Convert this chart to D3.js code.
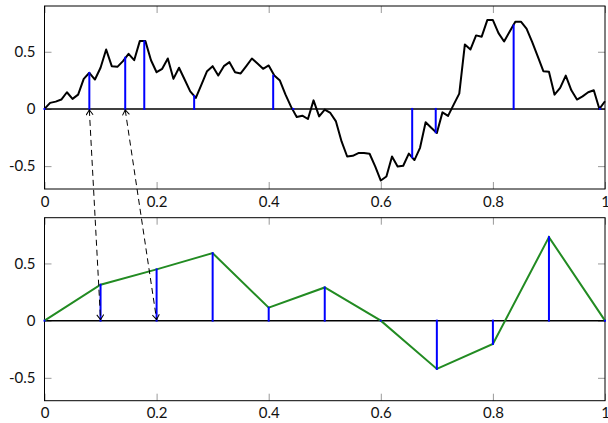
<!DOCTYPE html>
<html>
<head>
<meta charset="utf-8">
<script src="https://cdn.jsdelivr.net/npm/d3@7"></script>
<style>
  body { margin: 0; background: #fff; }
  text { font-family: Lato, "Open Sans", sans-serif; font-size: 15px; fill: #111; }
  .tick line { stroke: #999; }
</style>
</head>
<body>
<main></main>
<script>
// noisy signal, sampled every 0.01
const signal = [0, 0.053, 0.064, 0.082, 0.146, 0.088, 0.125, 0.263, 0.316, 0.257,
  0.36, 0.52, 0.374, 0.368, 0.418, 0.482, 0.426, 0.593, 0.593, 0.426,
  0.321, 0.351, 0.441, 0.263, 0.36, 0.257, 0.154, 0.096, 0.213, 0.33,
  0.374, 0.292, 0.374, 0.409, 0.321, 0.31, 0.374, 0.441, 0.397, 0.351,
  0.38, 0.292, 0.248, 0.125, 0.018, -0.07, -0.059, -0.088, 0.075, -0.065,
  -0.006, -0.035, -0.109, -0.284, -0.416, -0.41, -0.386, -0.386, -0.392, -0.503,
  -0.626, -0.591, -0.416, -0.503, -0.497, -0.39, -0.447, -0.34, -0.117, -0.165,
  -0.21, -0.03, -0.061, 0.038, 0.134, 0.564, 0.52, 0.643, 0.632, 0.777,
  0.777, 0.663, 0.59, 0.678, 0.763, 0.763, 0.702, 0.586, 0.459, 0.33,
  0.325, 0.125, 0.184, 0.292, 0.163, 0.082, 0.11, 0.146, 0.163, 0, 0.067];

// where the samples were taken (top) and where they are placed (bottom)
const sampleTimes = [0, 0.08, 0.144, 0.178, 0.267, 0.408, 0.444, 0.656, 0.698, 0.837, 0.991];
const sampleSlots = [0, 0.1, 0.2, 0.3, 0.4, 0.5, 0.6, 0.7, 0.8, 0.9, 1];
const sampleValues = [0, 0.314, 0.448, 0.59, 0.113, 0.29, 0, -0.422, -0.204, 0.73, 0];
const arrowSamples = [1, 2];

const xTicks = [0, 0.2, 0.4, 0.6, 0.8, 1];
const yTicks = [-0.5, 0, 0.5];

const width = 608, height = 423;
const left = 44.5, right = 605;
const panelH = 183;
const panels = [6, 217.7];

const svg = d3.select('main')
  .append('svg')
    .attr('width', width)
    .attr('height', height);

svg.append('defs')
  .append('marker')
    .attr('id', 'head')
    .attr('viewBox', '-6 -4 7 8')
    .attr('markerWidth', 7)
    .attr('markerHeight', 8)
    .attr('markerUnits', 'userSpaceOnUse')
    .attr('orient', 'auto-start-reverse')
  .append('path')
    .attr('d', 'M-5,-3.5L0,0L-5,3.5')
    .style('fill', 'none')
    .style('stroke', '#000')
    .style('stroke-width', 1);

const x = d3.scaleLinear().domain([0, 1]).range([left, right]);
const yScales = panels.map((t) =>
  d3.scaleLinear().domain([-0.7, 0.9]).range([t + panelH, t]));

function drawPanel(i) {
  const y = yScales[i];
  const t = panels[i];
  const g = svg.append('g');

  g.append('g')
    .attr('transform', `translate(0,${t + panelH})`)
    .call(d3.axisBottom(x).tickValues(xTicks).tickSizeInner(-7).tickSizeOuter(0)
      .tickFormat((d) => String(d)))
    .call((a) => a.select('.domain').remove())
    .call((a) => a.selectAll('text').attr('dy', '0.32em').attr('y', 13));

  g.append('g')
    .attr('transform', `translate(0,${t})`)
    .call(d3.axisTop(x).tickValues(xTicks).tickSizeInner(-7).tickSizeOuter(0).tickFormat(''))
    .call((a) => a.select('.domain').remove());

  g.append('g')
    .attr('transform', `translate(${left},0)`)
    .call(d3.axisLeft(y).tickValues(yTicks).tickSizeInner(-7).tickSizeOuter(0)
      .tickFormat((d) => String(d)))
    .call((a) => a.select('.domain').remove())
    .call((a) => a.selectAll('text').attr('x', -9));

  g.append('g')
    .attr('transform', `translate(${right},0)`)
    .call(d3.axisRight(y).tickValues(yTicks).tickSizeInner(-7).tickSizeOuter(0).tickFormat(''))
    .call((a) => a.select('.domain').remove());

  g.selectAll('.tick text')
    .style('font-family', 'Lato, sans-serif')
    .style('font-size', '15px')
    .style('fill', '#111');

  // frame
  g.append('rect')
    .attr('x', left)
    .attr('y', t)
    .attr('width', right - left)
    .attr('height', panelH)
    .style('fill', 'none')
    .style('stroke', '#000')
    .style('stroke-width', 1);

  // zero line
  g.append('line')
    .attr('x1', left)
    .attr('x2', right)
    .attr('y1', y(0))
    .attr('y2', y(0))
    .style('stroke', '#000')
    .style('stroke-width', 1.5);

  return g;
}

const topPanel = drawPanel(0);
const bottomPanel = drawPanel(1);
const yTop = yScales[0], yBot = yScales[1];

// top: signal + samples
topPanel.append('path')
  .datum(signal)
  .attr('d', d3.line().x((d, i) => x(i / 100)).y((d) => yTop(d)))
  .style('fill', 'none')
  .style('stroke', '#000')
  .style('stroke-width', 2)
  .style('stroke-linejoin', 'round');

topPanel.selectAll('.stem')
  .data(sampleValues).enter()
  .append('line')
    .attr('class', 'stem')
    .attr('x1', (d, i) => x(sampleTimes[i]))
    .attr('x2', (d, i) => x(sampleTimes[i]))
    .attr('y1', yTop(0))
    .attr('y2', (d) => yTop(d))
    .style('stroke', '#0000ff')
    .style('stroke-width', 2)
    .style('stroke-linecap', 'square');

// bottom: placed samples
bottomPanel.append('path')
  .datum(sampleValues)
  .attr('d', d3.line().x((d, i) => x(sampleSlots[i])).y((d) => yBot(d)))
  .style('fill', 'none')
  .style('stroke', '#228b22')
  .style('stroke-width', 2);

bottomPanel.selectAll('.stem')
  .data(sampleValues).enter()
  .append('line')
    .attr('class', 'stem')
    .attr('x1', (d, i) => x(sampleSlots[i]))
    .attr('x2', (d, i) => x(sampleSlots[i]))
    .attr('y1', yBot(0))
    .attr('y2', (d) => yBot(d))
    .style('stroke', '#0000ff')
    .style('stroke-width', 2)
    .style('stroke-linecap', 'square');

// dashed arrows
svg.selectAll('.arrow')
  .data(arrowSamples).enter()
  .append('line')
    .attr('class', 'arrow')
    .attr('x1', (d) => x(sampleTimes[d]))
    .attr('y1', yTop(0) + 1)
    .attr('x2', (d) => x(sampleSlots[d]))
    .attr('y2', yBot(0) - 1)
    .attr('marker-start', 'url(#head)')
    .attr('marker-end', 'url(#head)')
    .style('stroke', '#000')
    .style('stroke-width', 1)
    .style('stroke-dasharray', '6,4');
</script>
</body>
</html>
